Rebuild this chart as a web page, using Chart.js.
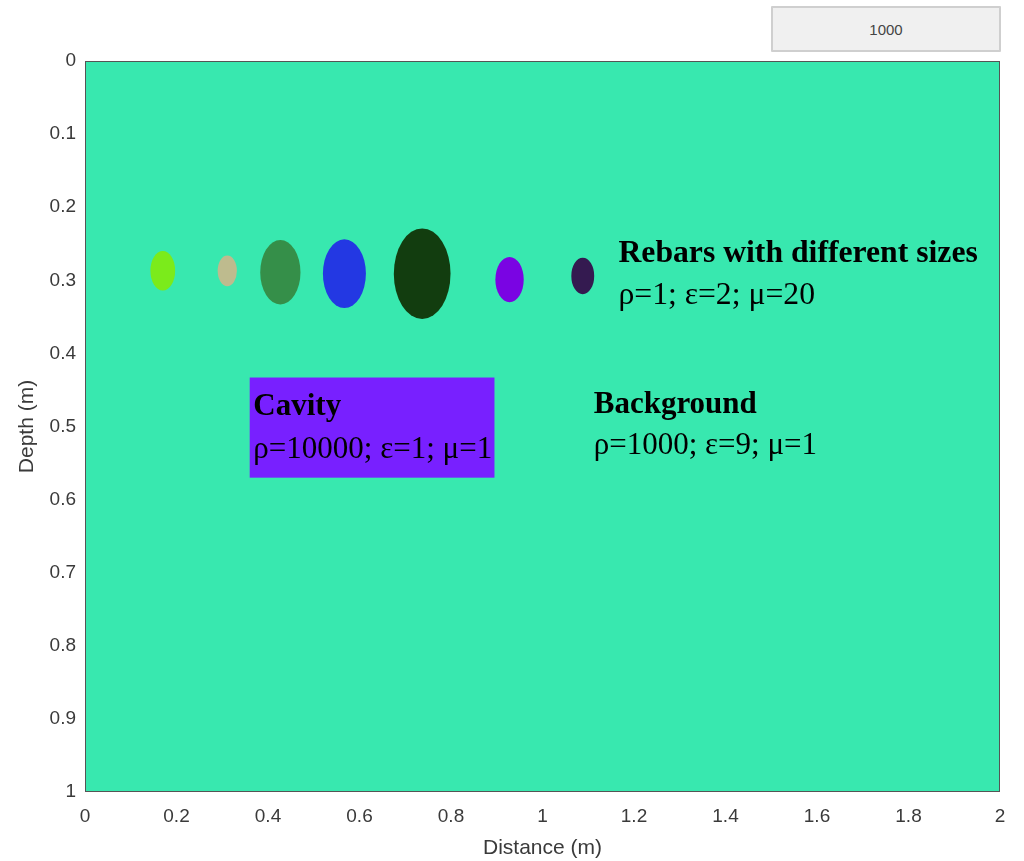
<!DOCTYPE html>
<html>
<head>
<meta charset="utf-8">
<title>GPR model geometry</title>
<script src="https://cdn.jsdelivr.net/npm/chart.js@4.4.1/dist/chart.umd.min.js"></script>
<style>
  html, body { margin: 0; padding: 0; background: #ffffff; }
  #wrap { position: relative; width: 1024px; height: 861px; }
  #model { position: absolute; left: 0; top: 0; }
  #valueBox {
    position: absolute; left: 771px; top: 6px; width: 226px; height: 42px;
    background: #f0f0f0; border: 2px solid #cfcfcf; border-radius: 1px;
    font: 15px "Liberation Sans", Arial, sans-serif; color: #444;
    display: flex; align-items: center; justify-content: center;
  }
</style>
</head>
<body>
<div id="wrap">
  <canvas id="model" width="1024" height="861"></canvas>
  <div id="valueBox">1000</div>
</div>
<script>
// Rebars: centre distance (m), centre depth (m), radius (m), fill colour
const rebarX      = [0.170, 0.311, 0.427, 0.567, 0.737, 0.928, 1.088];
const rebarDepth  = [0.287, 0.287, 0.289, 0.291, 0.291, 0.299, 0.294];
const rebarRadius = [0.027, 0.021, 0.044, 0.047, 0.062, 0.031, 0.025];
const rebarColors = ['#7beb1b', '#bebb8e', '#358f49', '#2338e3', '#123d0f', '#7a04e3', '#341a50'];

// Cavity rectangle: distance range and depth range (m)
const cavityX     = [0.360, 0.895];
const cavityDepth = [0.433, 0.570];

// Axis ticks
const xTicks = [0, 0.2, 0.4, 0.6, 0.8, 1, 1.2, 1.4, 1.6, 1.8, 2];
const yTicks = [0, 0.1, 0.2, 0.3, 0.4, 0.5, 0.6, 0.7, 0.8, 0.9, 1];

// Material labels
const labelLines = [
  { text: 'Rebars with different sizes', x: 1.166, y: 0.275, bold: true,  size: 31.7 },
  { text: 'ρ=1; ε=2; μ=20',              x: 1.166, y: 0.332, bold: false, size: 31.7 },
  { text: 'Background',                  x: 1.112, y: 0.482, bold: true,  size: 31 },
  { text: 'ρ=1000; ε=9; μ=1',            x: 1.112, y: 0.538, bold: false, size: 31 },
  { text: 'Cavity',                      x: 0.368, y: 0.484, bold: true,  size: 31 },
  { text: 'ρ=10000; ε=1; μ=1',           x: 0.368, y: 0.543, bold: false, size: 31 }
];

const BACKGROUND = '#38e8af';
const CAVITY = '#7820ff';

const modelPlugin = {
  id: 'modelGeometry',
  beforeDatasetsDraw(chart) {
    const { ctx, chartArea: a, scales: { x, y } } = chart;
    ctx.save();
    // background medium
    ctx.fillStyle = BACKGROUND;
    ctx.fillRect(a.left, a.top, a.right - a.left, a.bottom - a.top);

    // cavity
    const cx0 = x.getPixelForValue(cavityX[0]), cx1 = x.getPixelForValue(cavityX[1]);
    const cy0 = y.getPixelForValue(cavityDepth[0]), cy1 = y.getPixelForValue(cavityDepth[1]);
    ctx.fillStyle = CAVITY;
    ctx.fillRect(cx0, cy0, cx1 - cx0, cy1 - cy0);

    // rebars (circles in model units)
    rebarX.forEach((rx, i) => {
      const px = x.getPixelForValue(rx);
      const py = y.getPixelForValue(rebarDepth[i]);
      const rpx = Math.abs(x.getPixelForValue(rx + rebarRadius[i]) - px);
      const rpy = Math.abs(y.getPixelForValue(rebarDepth[i] + rebarRadius[i]) - py);
      ctx.beginPath();
      ctx.ellipse(px, py, rpx, rpy, 0, 0, Math.PI * 2);
      ctx.fillStyle = rebarColors[i];
      ctx.fill();
    });

    // labels
    ctx.fillStyle = '#000';
    ctx.textBaseline = 'alphabetic';
    ctx.textAlign = 'left';
    labelLines.forEach(l => {
      ctx.font = (l.bold ? 'bold ' : '') + l.size + 'px "Liberation Serif", "Times New Roman", serif';
      ctx.fillText(l.text, x.getPixelForValue(l.x), y.getPixelForValue(l.y));
    });
    ctx.restore();
  },
  afterDraw(chart) {
    const { ctx, chartArea: a } = chart;
    ctx.save();
    ctx.strokeStyle = '#555';
    ctx.lineWidth = 1;
    ctx.strokeRect(a.left + 0.5, a.top + 0.5, a.right - a.left - 1, a.bottom - a.top - 1);
    ctx.restore();
  }
};

const tickFont = { family: '"Liberation Sans", Arial, sans-serif', size: 19 };
const titleFont = { family: '"Liberation Sans", Arial, sans-serif', size: 21 };
const fmt = v => String(Number(v.toFixed(1)));

new Chart(document.getElementById('model'), {
  type: 'scatter',
  data: { datasets: [{ data: [], pointRadius: 0 }] },
  options: {
    responsive: false,
    devicePixelRatio: 1,
    animation: false,
    plugins: { legend: { display: false }, tooltip: { enabled: false } },
    layout: { padding: { top: 61, right: 24, left: 0, bottom: 0 } },
    scales: {
      x: {
        type: 'linear', min: 0, max: 2,
        afterBuildTicks: s => { s.ticks = xTicks.map(v => ({ value: v })); },
        afterFit: s => { s.height = 69; },
        grid: { display: false, drawTicks: false },
        border: { display: false },
        ticks: { color: '#3a3a3a', font: tickFont, padding: 13, maxRotation: 0, autoSkip: false, callback: fmt },
        title: { display: true, text: 'Distance (m)', color: '#3a3a3a', font: titleFont, padding: { top: 3, bottom: 0 } }
      },
      y: {
        type: 'linear', min: 0, max: 1, reverse: true,
        afterBuildTicks: s => { s.ticks = yTicks.map(v => ({ value: v })); },
        afterFit: s => { s.width = 85; },
        grid: { display: false, drawTicks: false },
        border: { display: false },
        ticks: { color: '#3a3a3a', font: tickFont, padding: 9, autoSkip: false, callback: fmt },
        title: { display: true, text: 'Depth (m)', color: '#3a3a3a', font: titleFont, padding: { top: 15, bottom: 0 } }
      }
    }
  },
  plugins: [modelPlugin]
});
</script>
</body>
</html>
